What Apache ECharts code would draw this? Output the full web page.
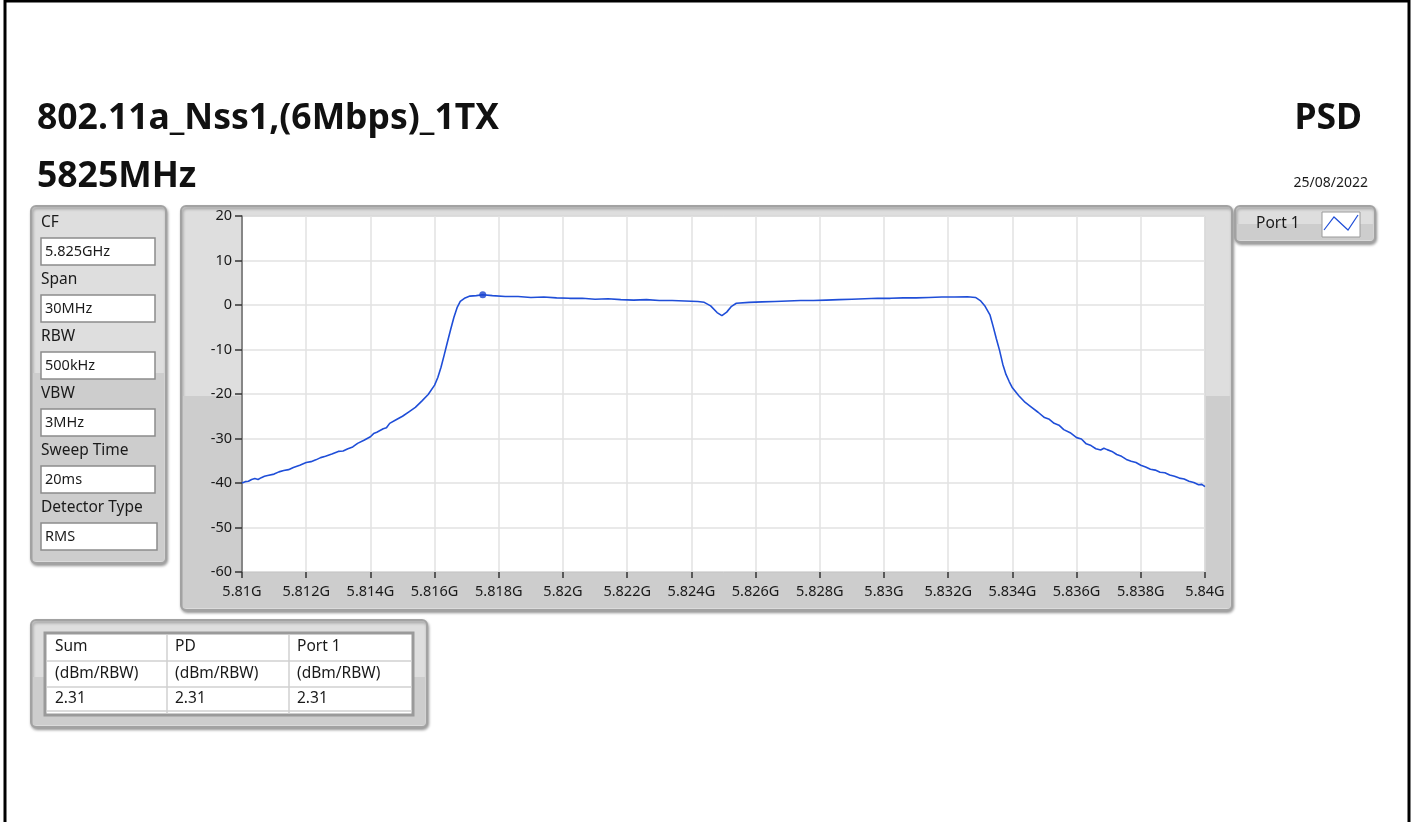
<!DOCTYPE html>
<html>
<head>
<meta charset="utf-8">
<script src="https://cdn.jsdelivr.net/npm/echarts@6/dist/echarts.min.js"></script>
<style>
html,body{margin:0;padding:0;background:#fff;}
#chart{width:1415px;height:822px;}
</style>
</head>
<body>
<div id="chart"></div>
<script>
// ---------- data ----------
const titleLine1 = '802.11a_Nss1,(6Mbps)_1TX';
const titleLine2 = '5825MHz';
const titleRight = 'PSD';
const dateText = '25/08/2022';
const seriesName = 'Port 1';

const paramLabels = ['CF', 'Span', 'RBW', 'VBW', 'Sweep Time', 'Detector Type'];
const paramValues = ['5.825GHz', '30MHz', '500kHz', '3MHz', '20ms', 'RMS'];

const tableHeaders = ['Sum', 'PD', 'Port 1'];
const tableUnits = ['(dBm/RBW)', '(dBm/RBW)', '(dBm/RBW)'];
const tableValues = ['2.31', '2.31', '2.31'];

// frequency in MHz
const freqMHz = [
  5810.0, 5810.1, 5810.2, 5810.3, 5810.4, 5810.5, 5810.6, 5810.7, 5810.8, 5811.0,
  5811.15, 5811.3, 5811.45, 5811.6, 5811.8, 5812.0, 5812.15, 5812.3, 5812.45, 5812.6,
  5812.8, 5813.0, 5813.15, 5813.3, 5813.45, 5813.6, 5813.8, 5814.0, 5814.1, 5814.2,
  5814.4, 5814.5, 5814.6, 5814.8, 5815.0, 5815.2, 5815.4, 5815.6, 5815.8, 5816.0,
  5816.1, 5816.2, 5816.3, 5816.4, 5816.5, 5816.6, 5816.7, 5816.8, 5816.95, 5817.1,
  5817.3, 5817.5, 5817.8, 5818.2, 5818.6, 5819.0, 5819.4, 5819.8, 5820.2, 5820.6,
  5821.0, 5821.4, 5821.8, 5822.2, 5822.6, 5823.0, 5823.4, 5823.8, 5824.2, 5824.4,
  5824.6, 5824.8, 5824.95, 5825.1, 5825.25, 5825.4, 5825.8, 5826.2, 5826.6, 5827.0,
  5827.4, 5827.8, 5828.2, 5828.6, 5829.0, 5829.4, 5829.8, 5830.2, 5830.6, 5831.0,
  5831.4, 5831.8, 5832.2, 5832.6, 5832.85, 5833.0, 5833.15, 5833.3, 5833.4, 5833.5,
  5833.6, 5833.7, 5833.8, 5833.9, 5834.0, 5834.2, 5834.4, 5834.6, 5834.8, 5835.0,
  5835.15, 5835.3, 5835.45, 5835.6, 5835.8, 5836.0, 5836.15, 5836.3, 5836.45, 5836.6,
  5836.75, 5836.85, 5836.95, 5837.1, 5837.25, 5837.4, 5837.55, 5837.7, 5837.85, 5838.0,
  5838.15, 5838.3, 5838.45, 5838.6, 5838.75, 5838.9, 5839.05, 5839.2, 5839.35, 5839.5,
  5839.65, 5839.8, 5839.9, 5840.0
];
// PSD in dBm
const psdDbm = [
  -40.0, -39.7, -39.6, -39.2, -39.0, -39.2, -38.8, -38.5, -38.3, -38.0,
  -37.5, -37.2, -37.0, -36.5, -36.0, -35.4, -35.2, -34.8, -34.3, -34.0,
  -33.5, -32.9, -32.8, -32.3, -31.9, -31.1, -30.4, -29.6, -28.9, -28.6,
  -27.8, -27.6, -26.6, -25.8, -25.0, -24.0, -23.0, -21.6, -20.1, -18.0,
  -16.3, -14.0, -11.2, -8.3, -5.5, -2.8, -0.6, 0.8, 1.6, 2.0,
  2.1, 2.31, 2.1, 1.9, 1.9, 1.7, 1.8, 1.6, 1.5, 1.5,
  1.3, 1.4, 1.2, 1.1, 1.2, 1.0, 1.0, 0.9, 0.8, 0.6,
  -0.2, -1.7, -2.4, -1.6, -0.3, 0.4, 0.6, 0.7, 0.8, 0.9,
  1.0, 1.0, 1.1, 1.2, 1.3, 1.4, 1.5, 1.5, 1.6, 1.6,
  1.7, 1.8, 1.8, 1.85, 1.7, 1.0, -0.3, -2.2, -4.8, -7.6,
  -10.2, -13.3, -15.6, -17.2, -18.6, -20.4, -21.9, -23.0, -24.1, -25.3,
  -25.7, -26.6, -27.0, -28.0, -28.7, -29.8, -30.1, -31.2, -31.6, -32.3,
  -32.6, -32.2, -32.5, -32.9, -33.6, -34.0, -34.7, -35.1, -35.4, -36.0,
  -36.4, -36.9, -37.1, -37.6, -37.7, -38.2, -38.5, -38.9, -39.1, -39.6,
  -39.9, -40.4, -40.3, -40.8
];
const peakFreqMHz = [5817.5];
const peakDbm = [2.31];

const xMin = 5810, xMax = 5840, xInterval = 2;
const yMin = -60, yMax = 20, yInterval = 10;

// ---------- layout / drawing ----------
const FONT = '"Noto Sans", "Open Sans", sans-serif';
const TXT = '#1a1a1a';
const LINE = '#1f4ed8';
const chart = echarts.init(document.getElementById('chart'), null, {renderer: 'canvas'});

const g = [];
function panel(x, y, w, h, splitY) {
  g.push({type: 'rect', z: -10, shape: {x: x, y: y, width: w, height: h, r: 5},
    style: {fill: '#dedede', stroke: '#a2a2a2', lineWidth: 2,
      shadowBlur: 3, shadowColor: 'rgba(0,0,0,0.35)', shadowOffsetX: 1, shadowOffsetY: 2}});
  g.push({type: 'rect', z: -9, shape: {x: x + 2, y: splitY, width: w - 4, height: y + h - splitY - 2},
    style: {fill: '#cdcdcd'}});
}
function txt(x, y, s, size, opts) {
  g.push(Object.assign({type: 'text', z: 50, x: x, y: y,
    style: Object.assign({text: s, fill: TXT, font: size + 'px ' + FONT, textVerticalAlign: 'middle'}, opts || {})}));
}

// page frame
g.push({type: 'rect', z: -20, shape: {x: 5, y: 1, width: 1404, height: 840},
  style: {fill: '#fff', stroke: '#000', lineWidth: 3}});

// titles
txt(37, 119, titleLine1, 35, {font: 'bold 35.5px ' + FONT, fill: '#111'});
txt(37, 177, titleLine2, 35, {font: 'bold 35.5px ' + FONT, fill: '#111'});
txt(1362, 119, titleRight, 35, {font: 'bold 35.5px ' + FONT, fill: '#111', textAlign: 'right'});
txt(1368, 183, dateText, 14, {textAlign: 'right'});

// parameter panel
panel(31, 206, 135, 357, 373);
paramLabels.forEach(function (lab, i) {
  const y0 = 223 + i * 57;
  txt(41, y0, lab, 15.5);
  const bw = i === paramLabels.length - 1 ? 116 : 114;
  g.push({type: 'rect', z: -5, shape: {x: 41, y: y0 + 15, width: bw, height: 27},
    style: {fill: '#fff', stroke: '#8c8c8c', lineWidth: 1.5}});
  txt(45, y0 + 29, paramValues[i], 14.5);
});

// plot panel
panel(181, 206, 1051, 404, 396);

// legend panel
panel(1235, 206, 140, 36, 224);
txt(1256, 224, seriesName, 15.5);
g.push({type: 'rect', z: -5, shape: {x: 1322, y: 212, width: 38, height: 25},
  style: {fill: '#fff', stroke: '#9a9a9a', lineWidth: 1}});
g.push({type: 'polyline', z: 5, shape: {points: [[1324, 230], [1334, 217], [1348, 230], [1358, 215]]},
  style: {stroke: LINE, lineWidth: 1.2, fill: null}});

// table panel
panel(31, 620, 396, 107, 677);
g.push({type: 'rect', z: -5, shape: {x: 45, y: 633, width: 368, height: 82},
  style: {fill: '#fff', stroke: '#9a9a9a', lineWidth: 3}});
[167, 289].forEach(function (cx) {
  g.push({type: 'line', z: -4, shape: {x1: cx, y1: 635, x2: cx, y2: 714}, style: {stroke: '#d0d0d0', lineWidth: 1.5}});
});
[661, 687, 711].forEach(function (cy) {
  g.push({type: 'line', z: -4, shape: {x1: 47, y1: cy, x2: 412, y2: cy}, style: {stroke: '#d0d0d0', lineWidth: 1.5}});
});
const colX = [55, 175, 297];
tableHeaders.forEach(function (h, i) {
  txt(colX[i], 647, h, 15.5);
  txt(colX[i], 674, tableUnits[i], 15.5);
  txt(colX[i], 699, tableValues[i], 15.5);
});

const option = {
  animation: false,
  backgroundColor: '#fff',
  graphic: g,
  grid: {left: 242, top: 216, width: 963, height: 356, show: true,
    backgroundColor: '#fff', borderColor: '#a8a8a8', borderWidth: 1, containLabel: false},
  xAxis: {
    type: 'value', min: xMin, max: xMax, interval: xInterval,
    axisLine: {show: true, onZero: false, lineStyle: {color: '#c8c8c8', width: 1}},
    axisTick: {show: true, length: 6, lineStyle: {color: '#333', width: 1.5}},
    axisLabel: {margin: 12, color: TXT, fontSize: 14.5, fontFamily: FONT,
      formatter: function (v) { return (v / 1000).toString() + 'G'; }},
    splitLine: {show: true, lineStyle: {color: '#e2e2e2', width: 1.5}}
  },
  yAxis: {
    type: 'value', min: yMin, max: yMax, interval: yInterval,
    axisLine: {show: true, onZero: false, lineStyle: {color: '#6a6a6a', width: 1.5}},
    axisTick: {show: true, length: 7, inside: false, lineStyle: {color: '#333', width: 1.5}},
    axisLabel: {margin: 10, color: TXT, fontSize: 14.5, fontFamily: FONT},
    splitLine: {show: true, lineStyle: {color: '#e2e2e2', width: 1.5}}
  },
  series: [
    {
      type: 'line', name: seriesName,
      data: freqMHz.map(function (f, i) { return [f, psdDbm[i]]; }),
      showSymbol: false, symbol: 'none',
      lineStyle: {color: LINE, width: 1.6},
      z: 3
    },
    {
      type: 'scatter', name: 'peak',
      data: peakFreqMHz.map(function (f, i) { return [f, peakDbm[i]]; }),
      symbolSize: 7, itemStyle: {color: '#1a44d0'}, z: 4
    }
  ]
};
chart.setOption(option);
</script>
</body>
</html>
